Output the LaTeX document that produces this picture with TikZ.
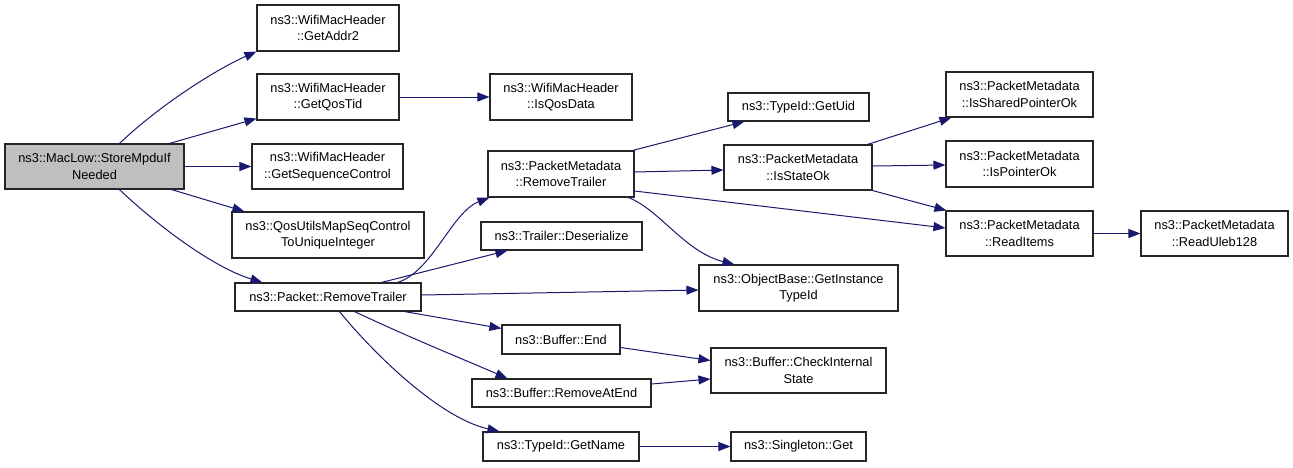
\documentclass[tikz,border=0pt]{standalone}
\usepackage{fontspec}
\setmainfont{Liberation Sans}
\usetikzlibrary{arrows.meta,calc}
\definecolor{navy}{HTML}{191970}
\definecolor{boxgray}{HTML}{BFBFBF}
\begin{document}
\begin{tikzpicture}[x=1pt,y=-1pt,
  box/.style={draw=black!85, line width=1.1pt, fill=white, inner sep=0pt, align=center,
    font=\fontsize{12.8}{16.5}\selectfont},
  e/.style={draw=navy, line width=1pt, -{Triangle[length=12pt,width=9pt]}, fill=none}]
\useasboundingbox (0,0) rectangle (1293,467);
% nodes
\node[box, fill=boxgray, minimum width=179pt, minimum height=45pt] (mac) at (94.5,166.5) {ns3::MacLow::StoreMpduIf\\Needed};
\node[box, minimum width=142pt, minimum height=46pt] (addr2) at (328,28) {ns3::WifiMacHeader\\::GetAddr2};
\node[box, minimum width=142pt, minimum height=46pt] (qostid) at (328,97) {ns3::WifiMacHeader\\::GetQosTid};
\node[box, minimum width=151pt, minimum height=45pt] (seqctl) at (327.5,166.5) {ns3::WifiMacHeader\\::GetSequenceControl};
\node[box, minimum width=192pt, minimum height=46pt] (qosutils) at (328,235) {ns3::QosUtilsMapSeqControl\\ToUniqueInteger};
\node[box, minimum width=186pt, minimum height=28pt] (pktrt) at (328,297) {ns3::Packet::RemoveTrailer};
\node[box, minimum width=142pt, minimum height=46pt] (isqos) at (561,97) {ns3::WifiMacHeader\\::IsQosData};
\node[box, minimum width=141pt, minimum height=28pt] (getuid) at (798.5,107) {ns3::TypeId::GetUid};
\node[box, minimum width=146pt, minimum height=46pt] (pmrt) at (561,174) {ns3::PacketMetadata\\::RemoveTrailer};
\node[box, minimum width=148pt, minimum height=45pt] (isstate) at (798,167.5) {ns3::PacketMetadata\\::IsStateOk};
\node[box, minimum width=161pt, minimum height=28pt] (deser) at (561.5,236) {ns3::Trailer::Deserialize};
\node[box, minimum width=199pt, minimum height=46pt] (objbase) at (798.5,288) {ns3::ObjectBase::GetInstance\\TypeId};
\node[box, minimum width=118pt, minimum height=29pt] (bufend) at (561,339.5) {ns3::Buffer::End};
\node[box, minimum width=175pt, minimum height=45pt] (checkint) at (798.5,370.5) {ns3::Buffer::CheckInternal\\State};
\node[box, minimum width=179pt, minimum height=28pt] (rmatend) at (561.5,393) {ns3::Buffer::RemoveAtEnd};
\node[box, minimum width=156pt, minimum height=29pt] (getname) at (561,446.5) {ns3::TypeId::GetName};
\node[box, minimum width=135pt, minimum height=29pt] (singleton) at (798.5,446.5) {ns3::Singleton::Get};
\node[box, minimum width=147pt, minimum height=45pt] (shared) at (1019.5,94.5) {ns3::PacketMetadata\\::IsSharedPointerOk};
\node[box, minimum width=147pt, minimum height=46pt] (ptrok) at (1019.5,164) {ns3::PacketMetadata\\::IsPointerOk};
\node[box, minimum width=147pt, minimum height=45pt] (readitems) at (1019.5,233.5) {ns3::PacketMetadata\\::ReadItems};
\node[box, minimum width=147pt, minimum height=45pt] (uleb) at (1214.5,233.5) {ns3::PacketMetadata\\::ReadUleb128};
% edges
\draw[e] ([xshift=115pt]mac.north west) .. controls (160,105) and (215,70) .. (addr2.south west);
\draw[e] ([xshift=165pt]mac.north west) -- ([yshift=2pt]qostid.south west);
\draw[e] (mac.east) -- (seqctl.west);
\draw[e] ([xshift=167pt]mac.south west) -- ([xshift=13pt]qosutils.north west);
\draw[e] ([xshift=115pt]mac.south west) .. controls (160,228) and (215,268) .. ([xshift=28pt]pktrt.north west);
\draw[e] (qostid.east) -- (isqos.west);
\draw[e] ([xshift=163pt]pktrt.north west) .. controls (432,272) and (452,212) .. ([xshift=2pt]pmrt.south west);
\draw[e] ([xshift=147pt]pktrt.north west) -- ([xshift=27pt]deser.south west);
\draw[e] ([yshift=2pt]pktrt.east) -- ([yshift=-2pt]objbase.west);
\draw[e] ([xshift=170pt]pktrt.south west) -- ([yshift=-4pt]bufend.north west);
\draw[e] ([xshift=120pt]pktrt.south west) .. controls (415,340) and (470,362) .. ([xshift=36pt]rmatend.north west);
\draw[e] ([xshift=105pt]pktrt.south west) .. controls (375,355) and (440,418) .. ([xshift=17pt]getname.north west);
\draw[e] ([xshift=-2pt]pmrt.north east) -- ([xshift=17pt]getuid.south west);
\draw[e] ([yshift=2pt]pmrt.east) -- ([yshift=-2.5pt]isstate.west);
\draw[e] ([yshift=-17pt]pmrt.east) -- ([yshift=5.5pt]readitems.west);
\draw[e] ([xshift=-6pt]pmrt.south east) .. controls (660,210) and (685,252) .. ([xshift=36pt]objbase.north west);
\draw[e] ([xshift=-5pt]isstate.north east) -- ([xshift=6pt]shared.south west);
\draw[e] ([yshift=1.5pt]isstate.east) -- ([yshift=-1pt]ptrok.west);
\draw[e] (isstate.south east) -- ([xshift=1pt]readitems.north west);
\draw[e] (readitems.east) -- (uleb.west);
\draw[e] ([yshift=-8pt]bufend.east) -- ([yshift=10pt]checkint.west);
\draw[e] ([yshift=9pt]rmatend.east) -- ([yshift=-8.5pt]checkint.west);
\draw[e] (getname.east) -- (singleton.west);
\end{tikzpicture}
\end{document}
